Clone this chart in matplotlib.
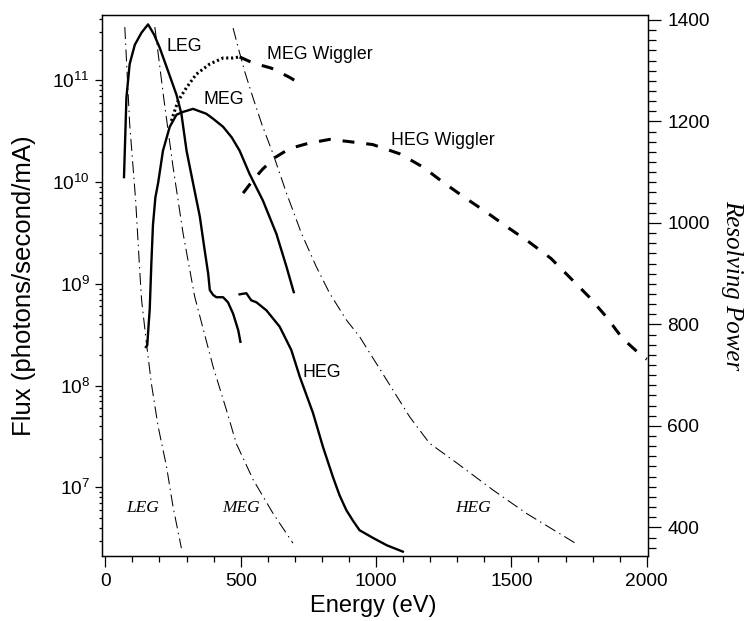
import matplotlib
matplotlib.use('Agg')
from matplotlib import pyplot as plt
from matplotlib.ticker import MultipleLocator, LogLocator, NullFormatter

plt.rcParams['font.family'] = ['Liberation Sans', 'DejaVu Sans']
plt.rcParams['mathtext.fontset'] = 'custom'
plt.rcParams['mathtext.rm'] = 'Liberation Sans'

# flux curves (eV, photons/second/mA)
leg_e = [69, 78, 90, 109, 134, 158, 180, 201, 232, 263, 281, 300, 324, 349, 367, 380,
         386, 398, 410, 435, 453, 472, 491, 499]
leg_flux = [1.12e10, 6.8e10, 1.45e11, 2.24e11, 2.95e11, 3.55e11, 2.82e11, 2.09e11, 1.23e11,
            7.2e10, 4.7e10, 2.04e10, 9.8e9, 4.6e9, 2.14e9, 1.26e9, 8.7e8, 7.8e8, 7.4e8,
            7.4e8, 6.6e8, 5.1e8, 3.5e8, 2.7e8]

meg_e = [150, 155, 160, 164, 170, 176, 185, 195, 213, 238, 263, 287, 324, 373, 398, 435,
         467, 496, 533, 582, 632, 669, 696]
meg_flux = [2.4e8, 2.5e8, 4.0e8, 5.6e8, 1.58e9, 3.8e9, 7.1e9, 9.8e9, 2.04e10, 3.5e10, 4.6e10,
            4.9e10, 5.25e10, 4.7e10, 4.2e10, 3.5e10, 2.75e10, 2.04e10, 1.2e10, 6.6e9, 3.1e9,
            1.48e9, 8.3e8]

heg_e = [496, 521, 539, 558, 595, 644, 687, 718, 767, 804, 841, 865, 890, 915, 939, 988,
         1040, 1099]
heg_flux = [7.9e8, 8.1e8, 6.9e8, 6.6e8, 5.5e8, 3.8e8, 2.24e8, 1.23e8, 5.4e7, 2.5e7, 1.26e7,
            8.4e6, 6.0e6, 4.7e6, 3.8e6, 3.2e6, 2.7e6, 2.34e6]

megw_e = [244, 258, 269, 300, 336, 386, 435, 472, 496, 546, 613, 681, 699]
megw_flux = [4.0e10, 5.2e10, 6.3e10, 8.5e10, 1.15e11, 1.45e11, 1.66e11, 1.66e11, 1.70e11,
             1.48e11, 1.32e11, 1.07e11, 1.0e11]

hegw_e = [509, 546, 582, 626, 681, 748, 828, 902, 988, 1087, 1173, 1247, 1326, 1406, 1486,
          1566, 1646, 1714, 1788, 1849, 1911, 1978, 2000]
hegw_flux = [7.8e9, 1.05e10, 1.35e10, 1.74e10, 2.14e10, 2.4e10, 2.63e10, 2.5e10, 2.34e10,
             1.9e10, 1.41e10, 1.0e10, 7.1e9, 5.1e9, 3.6e9, 2.57e9, 1.78e9, 1.17e9, 7.4e8,
             4.8e8, 2.9e8, 2.0e8, 1.82e8]

# resolving power curves
leg_rp_e = [72, 90, 112, 127, 134, 152, 170, 195, 226, 250, 281]
leg_rp = [1386, 1195, 1045, 907, 848, 763, 684, 599, 520, 441, 359]

meg_rp_e = [183, 216, 250, 287, 330, 398, 447, 484, 546, 619, 693]
meg_rp = [1386, 1245, 1111, 980, 855, 717, 632, 565, 494, 428, 369]

heg_rp_e = [472, 490, 515, 546, 579, 619, 669, 724, 779, 828, 890, 939, 1062, 1124, 1197,
            1298, 1431, 1554, 1745]
heg_rp = [1384, 1347, 1298, 1246, 1193, 1137, 1059, 980, 914, 862, 809, 776, 671, 618, 566,
          527, 474, 428, 366]

fig = plt.figure(figsize=(7.45, 6.21), dpi=100)
ax = fig.add_axes([0.137, 0.105, 0.733, 0.871])
ax2 = ax.twinx()

# flux
ax.plot(leg_e, leg_flux, color='black', lw=1.7)
ax.plot(meg_e, meg_flux, color='black', lw=1.7)
ax.plot(heg_e, heg_flux, color='black', lw=1.7)
ax.plot(megw_e[:9], megw_flux[:9], color='black', lw=2.2, dashes=(0.7, 0.9))
ax.plot(megw_e[8:], megw_flux[8:], color='black', lw=2.2, dashes=(3.9, 3.9))
ax.plot(hegw_e, hegw_flux, color='black', lw=2.2, dashes=(3.9, 3.9))

# resolving power
dashdot = (11.5, 4.3, 1.4, 4.3)
ax2.plot(leg_rp_e, leg_rp, color='black', lw=0.75, dashes=dashdot)
ax2.plot(meg_rp_e, meg_rp, color='black', lw=0.75, dashes=dashdot)
ax2.plot(heg_rp_e, heg_rp, color='black', lw=0.75, dashes=dashdot)

ax.set_yscale('log')
ax.set_xlim(-12, 2005)
ax.set_ylim(2.13e6, 4.4e11)
ax2.set_ylim(344, 1410)

ax.xaxis.set_major_locator(MultipleLocator(500))
ax.xaxis.set_minor_locator(MultipleLocator(100))
ax.yaxis.set_major_locator(LogLocator(base=10))
ax.yaxis.set_minor_locator(LogLocator(base=10, subs=range(2, 10)))
ax.yaxis.set_minor_formatter(NullFormatter())
ax2.yaxis.set_major_locator(MultipleLocator(200))
ax2.yaxis.set_minor_locator(MultipleLocator(20))

ax.tick_params(axis='x', which='major', direction='out', length=7.7, width=0.9, labelsize=13.8, pad=5)
ax.tick_params(axis='x', which='minor', direction='out', length=4, width=0.9)
ax.tick_params(axis='y', which='major', direction='out', length=4.8, width=0.9, labelsize=13.8, pad=4)
ax.tick_params(axis='y', which='minor', direction='out', length=2.4, width=0.9)
ax2.tick_params(axis='y', which='major', direction='out', length=9.6, width=0.9, labelsize=13.8, pad=4)
ax2.tick_params(axis='y', which='minor', direction='out', length=6, width=0.9)
ax.tick_params(top=False)

for a in (ax, ax2):
    for s in a.spines.values():
        s.set_linewidth(0.9)

ax.set_xlabel('Energy (eV)', fontsize=17, va='center')
ax.xaxis.set_label_coords(0.497, -0.0924)
ax.set_ylabel('Flux (photons/second/mA)', fontsize=18.5, va='center')
ax.yaxis.set_label_coords(-0.143, 0.5)
ax2.set_ylabel('Resolving Power', fontsize=18, rotation=270, va='center', ha='center',
               family=['Liberation Serif'], style='italic')
ax2.yaxis.set_label_coords(1.154, 0.5)

# curve labels
lab = dict(fontsize=12.8, va='center', ha='left')
ax.text(226, 2.14e11, 'LEG', **lab)
ax.text(361, 6.5e10, 'MEG', **lab)
ax.text(597, 1.78e11, 'MEG Wiggler', **lab)
ax.text(1056, 2.57e10, 'HEG Wiggler', **lab)
ax.text(730, 1.35e8, 'HEG', **lab)

ital = dict(fontsize=12.5, va='center', ha='center', family=['Liberation Serif'], style='italic')
ax.text(138, 6.3e6, 'LEG', **ital)
ax.text(503, 6.3e6, 'MEG', **ital)
ax.text(1359, 6.3e6, 'HEG', **ital)

plt.savefig('out.png', dpi=100)
